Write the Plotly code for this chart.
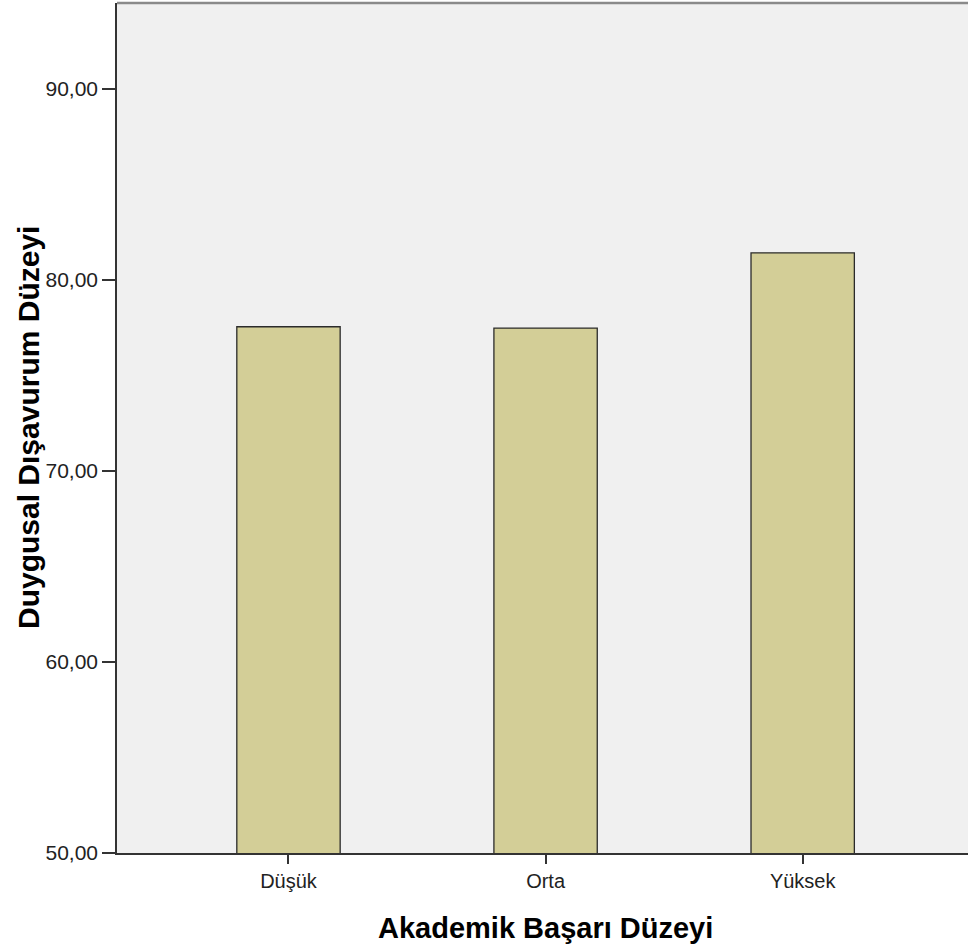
import plotly.graph_objects as go

categories = ["Düşük", "Orta", "Yüksek"]
values = [77.55, 77.48, 81.42]
y_ticks = [50, 60, 70, 80, 90]
y_tick_labels = ["50,00", "60,00", "70,00", "80,00", "90,00"]
x_title = "Akademik Başarı Düzeyi"
y_title = "Duygusal Dışavurum Düzeyi"

W, H = 968, 951
L, T, B, R = 117, 3, 98, 0
pw = W - L - R
ph = H - T - B
FONT = "Liberation Sans, Arial, sans-serif"

fig = go.Figure(go.Bar(
    x=list(range(len(categories))), y=values, width=0.402,
    marker=dict(color="#D3CE97", line=dict(color="#2b2b2b", width=1.3)),
))

fig.update_layout(
    width=W, height=H,
    margin=dict(l=L, r=R, t=T, b=B, pad=0),
    plot_bgcolor="#F0F0F0", paper_bgcolor="white",
    showlegend=False,
    font=dict(family=FONT, color="#222222", size=20),
)
fig.update_xaxes(
    range=[-0.667, 2.643], tickmode="array",
    tickvals=list(range(len(categories))), ticktext=categories,
    showgrid=False, zeroline=False, showline=True, linecolor="#333333", linewidth=1.5,
    ticks="outside", ticklen=9, tickcolor="#333333", tickwidth=1.5,
    tickfont=dict(size=20, color="#222222"),
)
fig.update_yaxes(
    range=[50, 94.5], tickmode="array", tickvals=y_ticks, ticktext=y_tick_labels,
    showgrid=False, zeroline=False, showline=True, linecolor="#333333", linewidth=1.5,
    ticks="outside", ticklen=13, tickcolor="#333333", tickwidth=1.5,
    tickfont=dict(size=21, color="#222222"),
)
# top frame line
fig.add_shape(type="line", xref="paper", yref="paper", x0=0, x1=1, y0=1, y1=1,
              line=dict(color="#8a8a8a", width=2.5))

fig.add_annotation(text=x_title, xref="paper", yref="paper",
                   x=(545 - L) / pw, y=(853 - 928) / ph, xanchor="center", yanchor="middle",
                   showarrow=False,
                   font=dict(size=29, color="#000000", family=FONT, weight="bold"))
fig.add_annotation(text=y_title, xref="paper", yref="paper",
                   x=(28 - L) / pw, y=(853 - 428) / ph, xanchor="center", yanchor="middle",
                   textangle=-90, showarrow=False,
                   font=dict(size=30, color="#000000", family=FONT, weight="bold"))

fig.write_html("out.html", config={"displayModeBar": False},
               post_script="document.body.style.margin='0';document.body.style.overflow='hidden';")
